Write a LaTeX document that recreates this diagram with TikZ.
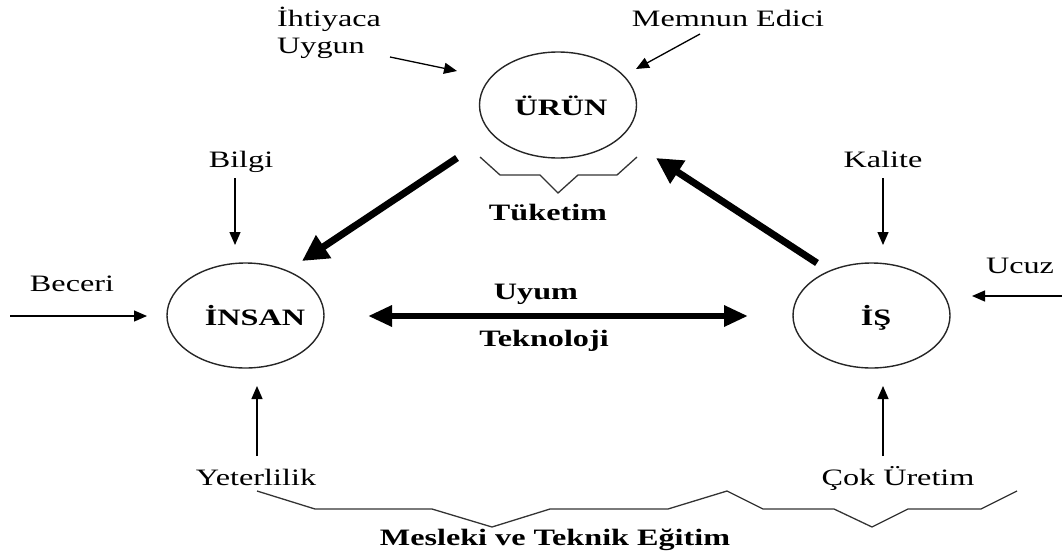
\documentclass[tikz,border=0pt]{standalone}
\usepackage{fontspec}
\setmainfont{Liberation Serif}[FakeStretch=1.37]
\usetikzlibrary{arrows.meta,shapes.geometric}
\tikzset{
  lbl/.style={font=\fontsize{23.5}{26}\selectfont, anchor=base, inner sep=0pt},
  blbl/.style={lbl, font=\fontsize{23.5}{26}\selectfont\bfseries},
  oval/.style={draw=black!85, line width=1.4pt, ellipse, inner sep=0pt},
  thin/.style={draw=black, line width=1.3pt, -{Triangle[length=13pt,width=11pt]}},
  heavy/.style={draw=black, line width=7pt, -{Triangle[length=26pt,width=26pt]}},
  dbl/.style={draw=black, line width=6pt, {Triangle[length=24pt,width=20pt]}-{Triangle[length=24pt,width=20pt]}},
  brace/.style={draw=black!80, line width=1.3pt, line join=miter},
}
\begin{document}
\begin{tikzpicture}[x=1pt,y=-1pt]
\path[use as bounding box] (0,0) rectangle (1062,554);
% ellipses
\node[oval, minimum width=157pt, minimum height=106pt] (urun) at (558,105) {};
\node[oval, minimum width=157pt, minimum height=105pt] (insan) at (245.5,315.5) {};
\node[oval, minimum width=157pt, minimum height=105pt] (is) at (871.5,315.5) {};
\node[blbl] (turun) at (561,115) {ÜRÜN};
\node[blbl] (tinsan) at (255,325) {İNSAN};
\node[blbl] (tis) at (876,325) {İŞ};
% labels
\node[lbl, anchor=base west] (ihtiyaca) at (277,27) {İhtiyaca};
\node[lbl, anchor=base west] (uygun) at (277,53) {Uygun};
\node[lbl] (memnun) at (728,27) {Memnun Edici};
\node[lbl] (bilgi) at (241,167) {Bilgi};
\node[lbl] (kalite) at (883,167) {Kalite};
\node[lbl] (beceri) at (72,291) {Beceri};
\node[lbl] (ucuz) at (1020,273) {Ucuz};
\node[lbl] (yeter) at (256,485) {Yeterlilik};
\node[lbl] (cok) at (898,485) {Çok Üretim};
\node[blbl] (tuketim) at (548,220) {Tüketim};
\node[blbl] (uyum) at (536,299) {Uyum};
\node[blbl] (tekno) at (544,346) {Teknoloji};
\node[blbl] (mesleki) at (555,545) {Mesleki ve Teknik Eğitim};
% coordinates
\coordinate (ihS) at (390,57); \coordinate (ihE) at (457,71);
\coordinate (meS) at (700,34); \coordinate (meE) at (636,69);
\coordinate (biS) at (235,178); \coordinate (biE) at (235,245);
\coordinate (kaS) at (883,178); \coordinate (kaE) at (883,245);
\coordinate (beS) at (10,316); \coordinate (beE) at (147,316);
\coordinate (ucS) at (1062,296); \coordinate (ucE) at (972,296);
\coordinate (yeS) at (257,456); \coordinate (yeE) at (257,386);
\coordinate (coS) at (883,456); \coordinate (coE) at (883,386);
\coordinate (h1S) at (457,158); \coordinate (h1E) at (302,261);
\coordinate (h2S) at (817,263); \coordinate (h2E) at (656,158);
\coordinate (dL) at (368,316); \coordinate (dR) at (748,316);
% arrows
\draw[thin] (ihS) -- (ihE);
\draw[thin] (meS) -- (meE);
\draw[thin] (biS) -- (biE);
\draw[thin] (kaS) -- (kaE);
\draw[thin] (beS) -- (beE);
\draw[thin] (ucS) -- (ucE);
\draw[thin] (yeS) -- (yeE);
\draw[thin] (coS) -- (coE);
\draw[heavy] (h1S) -- (h1E);
\draw[heavy] (h2S) -- (h2E);
\draw[dbl] (dL) -- (dR);
% braces
\draw[brace] (480,157) -- (500,175) -- (540,175) -- (558,193) -- (578,175) -- (617,175) -- (637,157);
\draw[brace] (257,491) -- (315,509) -- (432,509) -- (492,527) -- (550,509) -- (668,509) -- (727,491) -- (763,509) -- (834,509) -- (872,527) -- (908,509) -- (981,509) -- (1017,491);
\end{tikzpicture}
\end{document}
